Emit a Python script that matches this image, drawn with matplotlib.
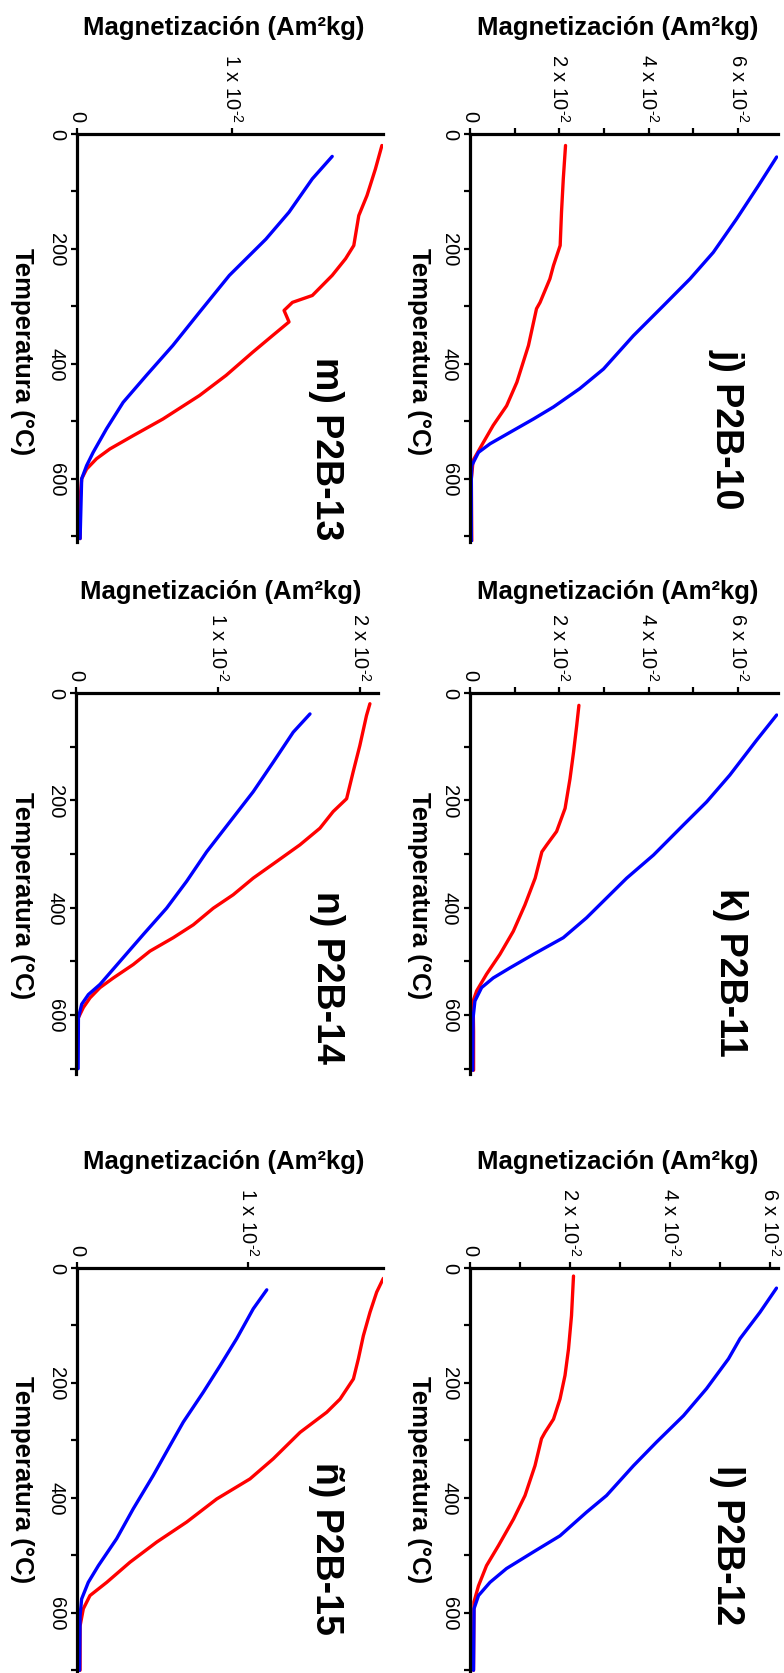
import matplotlib
matplotlib.use('Agg')
import matplotlib.pyplot as plt
from matplotlib.ticker import MultipleLocator

plt.rcParams['font.family'] = 'Liberation Sans'
plt.rcParams['mathtext.fontset'] = 'custom'
plt.rcParams['mathtext.rm'] = 'Liberation Sans'

# --- data: temperature (°C) and magnetization (Am2/kg) ---
# j) P2B-10
j_blue_t = [40, 90, 148, 206, 252, 299, 351, 409, 443, 475, 496, 519, 539, 554, 577, 600, 710]
j_blue_m = [0.0687, 0.0646, 0.0597, 0.0545, 0.0493, 0.0433, 0.0366, 0.0299, 0.0246, 0.0187,
            0.0142, 0.0090, 0.0045, 0.0019, 0.0004, 0.0003, 0.0003]
j_red_t = [20, 78, 136, 194, 229, 252, 293, 304, 368, 432, 473, 507, 542, 568, 600, 708]
j_red_m = [0.0214, 0.0209, 0.0205, 0.0202, 0.0187, 0.0179, 0.0157, 0.0149, 0.0131, 0.0105,
           0.0082, 0.0052, 0.0026, 0.0007, 0.0003, 0.0004]

# k) P2B-11
k_blue_t = [41, 88, 153, 203, 246, 302, 345, 382, 419, 456, 487, 512, 531, 549, 574, 605, 703]
k_blue_m = [0.0687, 0.0642, 0.0582, 0.0530, 0.0478, 0.0411, 0.0351, 0.0306, 0.0261, 0.0209,
            0.0142, 0.0090, 0.0052, 0.0026, 0.0011, 0.0007, 0.0006]
k_red_t = [23, 61, 110, 160, 215, 258, 283, 296, 345, 395, 444, 487, 524, 555, 574, 630, 703]
k_red_m = [0.0244, 0.0239, 0.0232, 0.0224, 0.0213, 0.0194, 0.0172, 0.0161, 0.0146, 0.0123,
           0.0097, 0.0067, 0.0037, 0.0015, 0.0007, 0.0008, 0.0008]

# l) P2B-12
l_blue_t = [35, 77, 123, 158, 210, 257, 303, 344, 396, 425, 466, 494, 523, 547, 570, 593, 700]
l_blue_m = [0.0613, 0.0580, 0.0540, 0.0517, 0.0473, 0.0427, 0.0373, 0.0327, 0.0273, 0.0233,
            0.0180, 0.0127, 0.0073, 0.0040, 0.0017, 0.0008, 0.0007]
l_red_t = [14, 83, 141, 187, 228, 263, 286, 297, 344, 396, 437, 483, 518, 553, 581, 700]
l_red_m = [0.0207, 0.0203, 0.0197, 0.0190, 0.0180, 0.0167, 0.0150, 0.0143, 0.0130, 0.0110,
           0.0087, 0.0057, 0.0033, 0.0017, 0.0008, 0.0007]

# m) P2B-13
m_blue_t = [39, 78, 136, 183, 246, 310, 368, 420, 467, 513, 554, 577, 600, 704]
m_blue_m = [0.01643, 0.01515, 0.01365, 0.01216, 0.00981, 0.00789, 0.00617, 0.00447, 0.00297,
            0.00190, 0.00104, 0.00062, 0.00030, 0.00020]
m_red_t = [20, 61, 107, 142, 194, 217, 246, 281, 293, 307, 327, 351, 380, 420, 455, 496, 525,
           548, 565, 583, 600, 634, 704]
m_red_m = [0.01963, 0.01921, 0.01867, 0.01814, 0.01782, 0.01729, 0.01643, 0.01515, 0.01387,
           0.01333, 0.01365, 0.01258, 0.01130, 0.00960, 0.00789, 0.00553, 0.00361, 0.00212,
           0.00126, 0.00062, 0.00030, 0.00020, 0.00020]

# n) P2B-14
n_blue_t = [39, 73, 129, 184, 240, 296, 351, 401, 450, 500, 543, 562, 580, 605, 700]
n_blue_m = [0.01648, 0.01530, 0.01389, 0.01248, 0.01084, 0.00920, 0.00779, 0.00638, 0.00474,
            0.00310, 0.00169, 0.00087, 0.00040, 0.00017, 0.00015]
n_red_t = [20, 42, 98, 147, 197, 221, 252, 283, 314, 345, 376, 401, 432, 456, 481, 506, 531,
           549, 568, 586, 605, 640, 700]
n_red_m = [0.02070, 0.02046, 0.01999, 0.01952, 0.01906, 0.01811, 0.01718, 0.01577, 0.01413,
           0.01248, 0.01107, 0.00967, 0.00826, 0.00685, 0.00521, 0.00403, 0.00263, 0.00169,
           0.00099, 0.00052, 0.00017, 0.00002, 0.00010]

# ñ) P2B-15
o_blue_t = [38, 71, 123, 170, 216, 268, 309, 361, 419, 471, 518, 547, 576, 605, 700]
o_blue_m = [0.01110, 0.01031, 0.00934, 0.00837, 0.00739, 0.00622, 0.00544, 0.00446, 0.00329,
            0.00232, 0.00125, 0.00066, 0.00027, 0.00018, 0.00015]
o_red_t = [18, 42, 77, 118, 158, 193, 228, 251, 286, 332, 367, 402, 442, 477, 512, 547, 570,
           593, 623, 700]
o_red_m = [0.01792, 0.01753, 0.01714, 0.01675, 0.01646, 0.01617, 0.01539, 0.01461, 0.01305,
           0.01148, 0.01012, 0.00817, 0.00642, 0.00466, 0.00310, 0.00174, 0.00076, 0.00037,
           0.00018, 0.00018]

names = ['j) P2B-10', 'k) P2B-11', 'l) P2B-12', 'm) P2B-13', 'n) P2B-14', 'ñ) P2B-15']
sup = r'$^{\text{-2}}$'
ticks_big = [0, 0.02, 0.04, 0.06]
labels_big = ['0', '2 x 10' + sup, '4 x 10' + sup, '6 x 10' + sup]
ticks_two = [0, 0.01, 0.02]
labels_two = ['0', '1 x 10' + sup, '2 x 10' + sup]
ticks_one = [0, 0.01]
labels_one = ['0', '1 x 10' + sup]

W, H = 784, 1674
fig = plt.figure(figsize=(W / 100, H / 100), dpi=100)


def rect(x0, y0, x1, y1):
    return [x0 / W, 1 - y1 / H, (x1 - x0) / W, (y1 - y0) / H]


def panel(box, bt, bm, rt, rm, name, xmax, ticks, labels, minor, title_xy, tlab_x, tlab_y, mlab_y):
    ax = fig.add_axes(rect(*box))
    ax.plot(rm, rt, color='#ff0000', lw=2.4, solid_capstyle='round')
    ax.plot(bm, bt, color='#0000ff', lw=2.4, solid_capstyle='round')
    ax.set_xlim(0, xmax)
    ax.set_ylim(710, 0)
    ax.spines['right'].set_visible(False)
    ax.spines['bottom'].set_visible(False)
    ax.spines['top'].set_linewidth(2.3)
    ax.spines['left'].set_linewidth(2.3)
    ax.xaxis.tick_top()
    ax.set_xticks(ticks)
    ax.set_xticklabels(labels, rotation=-90)
    if minor:
        ax.xaxis.set_minor_locator(MultipleLocator(minor))
    ax.set_yticks([0, 200, 400, 600])
    ax.set_yticklabels(['0', '200', '400', '600'], rotation=-90, va='center')
    ax.yaxis.set_minor_locator(MultipleLocator(100))
    ax.tick_params(which='both', direction='out', length=4, width=1.6, labelsize=14.5)
    ax.tick_params(axis='x', pad=5)
    ax.tick_params(axis='y', pad=4)

    ax.set_xlabel('Magnetización (Am²kg)', fontsize=18.5, fontweight='bold')
    ax.xaxis.set_label_position('top')
    ax.xaxis.set_label_coords(0.48, mlab_y)
    ax.xaxis.label.set_va('center')
    ax.set_ylabel('Temperatura (°C)', fontsize=18.5, fontweight='bold', rotation=-90)
    ax.yaxis.set_label_coords(tlab_x, tlab_y)
    ax.yaxis.label.set_va('center')
    ax.yaxis.label.set_ha('center')

    ax.text(title_xy[0], title_xy[1], name, transform=ax.transAxes, rotation=-90,
            ha='center', va='center', fontsize=27, fontweight='bold')
    return ax


panel((470, 135, 778, 543), j_blue_t, j_blue_m, j_red_t, j_red_m, names[0], 0.069,
      ticks_big, labels_big, 0.01, (0.834, 0.28), -0.166, 0.47, 1.262)
panel((470, 694, 778, 1075), k_blue_t, k_blue_m, k_red_t, k_red_m, names[1], 0.069,
      ticks_big, labels_big, 0.01, (0.844, 0.27), -0.166, 0.472, 1.268)
panel((470, 1269, 778, 1677), l_blue_t, l_blue_m, l_red_t, l_red_m, names[2], 0.0616,
      ticks_big, labels_big, 0.01, (0.834, 0.323), -0.166, 0.485, 1.262)
panel((77, 135, 383, 543), m_blue_t, m_blue_m, m_red_t, m_red_m, names[3], 0.0197,
      ticks_one, labels_one, None, (0.814, 0.23), -0.18, 0.47, 1.262)
panel((76, 694, 378, 1075), n_blue_t, n_blue_m, n_red_t, n_red_m, names[4], 0.02127,
      ticks_two, labels_two, None, (0.831, 0.257), -0.18, 0.472, 1.268)
panel((77, 1269, 383, 1677), o_blue_t, o_blue_m, o_red_t, o_red_m, names[5], 0.0179,
      ticks_one, labels_one, None, (0.814, 0.314), -0.18, 0.485, 1.262)

fig.savefig('out.png', dpi=100)
